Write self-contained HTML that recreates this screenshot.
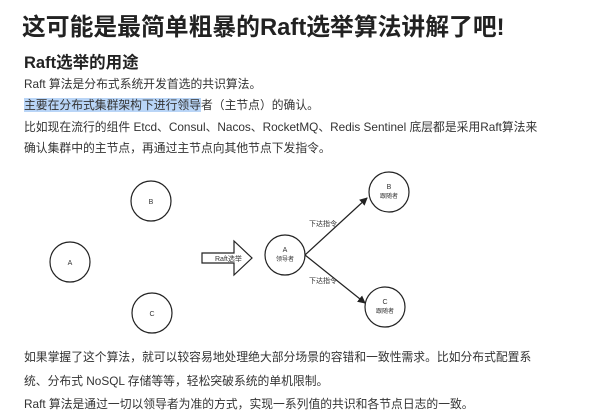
<!DOCTYPE html><html><head><meta charset="utf-8"><style>
body{margin:0;width:594px;height:418px;background:#fff;overflow:hidden;font-family:"Liberation Sans","Noto Sans CJK SC",sans-serif;color:#333}
.t{position:absolute;left:24px;white-space:nowrap}
h1{position:absolute;left:22px;top:7px;margin:0;font-size:23.8px;font-weight:bold;color:#222}
h2{position:absolute;left:24px;top:49px;margin:0;font-size:16.5px;font-weight:bold;color:#222}
.b{font-size:11.8px;line-height:16px}
</style></head><body>
<h1>这可能是最简单粗暴的Raft选举算法讲解了吧!</h1>
<h2>Raft选举的用途</h2>
<div class="t b" style="top:76px">Raft 算法是分布式系统开发首选的共识算法。</div>
<div class="t b" style="top:97px"><span style="background:#b9d5f7">主要在分布式集群架构下进行领导</span>者（主节点）的确认。</div>
<div class="t b" style="top:119px">比如现在流行的组件 Etcd、Consul、Nacos、RocketMQ、Redis Sentinel 底层都是采用Raft算法来</div>
<div class="t b" style="top:140px">确认集群中的主节点，再通过主节点向其他节点下发指令。</div>
<svg style="position:absolute;left:0;top:0" width="594" height="418" font-family="Liberation Sans,Noto Sans CJK SC,sans-serif" font-size="7" fill="#333">
<defs><marker id="m" markerWidth="8" markerHeight="8" refX="7" refY="4" orient="auto" markerUnits="userSpaceOnUse"><path d="M0,0L8,4L0,8z" fill="#222"/></marker></defs>
<g fill="none" stroke="#222" stroke-width="1.2">
<circle cx="70" cy="262" r="20"/><circle cx="151" cy="201" r="20"/><circle cx="152" cy="313" r="20"/>
<circle cx="285" cy="255" r="20"/><circle cx="389" cy="192" r="20"/><circle cx="385" cy="307" r="20"/>
<path d="M202,253H234V241L252,258L234,275V263H202Z"/>
<path d="M305,255L367,198" marker-end="url(#m)"/><path d="M305,255L365,303" marker-end="url(#m)"/>
</g>
<text x="70" y="265" text-anchor="middle">A</text><text x="151" y="204" text-anchor="middle">B</text><text x="152" y="316" text-anchor="middle">C</text>
<text x="285" y="252" text-anchor="middle">A</text><text x="285" y="261" text-anchor="middle" font-size="6">领导者</text>
<text x="389" y="189" text-anchor="middle">B</text><text x="389" y="198" text-anchor="middle" font-size="6">跟随者</text>
<text x="385" y="304" text-anchor="middle">C</text><text x="385" y="313" text-anchor="middle" font-size="6">跟随者</text>
<text x="215" y="261" font-size="7">Raft选举</text>
<text x="323" y="226" text-anchor="middle">下达指令</text><text x="323" y="283" text-anchor="middle">下达指令</text>
</svg>
<div class="t b" style="top:349px">如果掌握了这个算法，就可以较容易地处理绝大部分场景的容错和一致性需求。比如分布式配置系</div>
<div class="t b" style="top:373px">统、分布式 NoSQL 存储等等，轻松突破系统的单机限制。</div>
<div class="t b" style="top:396px">Raft 算法是通过一切以领导者为准的方式，实现一系列值的共识和各节点日志的一致。</div>
</body></html>
